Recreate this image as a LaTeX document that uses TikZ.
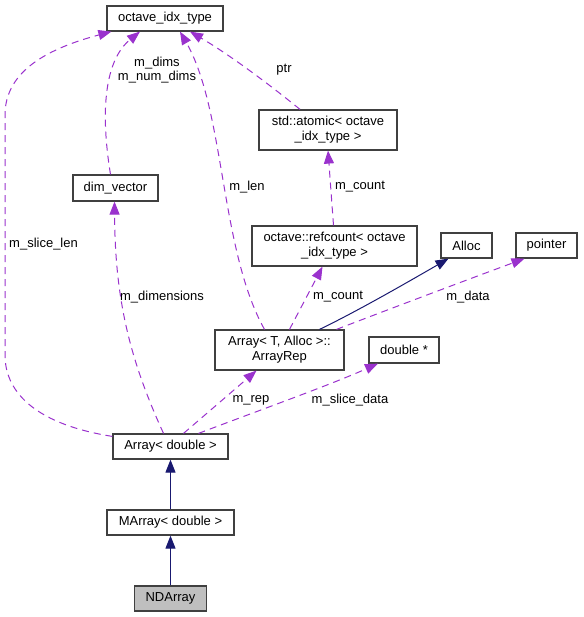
\documentclass[tikz,border=0pt]{standalone}
\usepackage{fontspec}
\setmainfont{Liberation Sans}
\usepackage{tikz}
\usetikzlibrary{positioning, arrows.meta}
\definecolor{memb}{HTML}{9A32CD}
\definecolor{inh}{HTML}{191970}
\definecolor{frame}{HTML}{404040}
\tikzset{x=1pt, y=-1pt, % pixel-like units, y down
cls/.style={draw=frame, line width=1.2pt, fill=white, minimum height=25pt, inner sep=0pt, align=center, font=\fontsize{13}{15}\selectfont}, % every class box
usage/.style={draw=memb, dashed, dash pattern=on 7pt off 5pt, line width=1pt, -{Triangle[length=13pt,width=10pt]}}, % member relation
base/.style={draw=inh, line width=1pt, -{Triangle[length=13pt,width=10pt]}}, % inheritance
lbl/.style={font=\fontsize{13}{14}\selectfont, align=center, inner sep=0pt}, % edge labels
}
\begin{document}
\begin{tikzpicture}
\useasboundingbox (0,0) rectangle (583,617);
\node[cls, minimum width=116pt] (idx) at (165,18.5) {octave\_idx\_type};
\node[cls, minimum width=138pt, minimum height=40pt] (atom) at (328,130) {std::atomic\textless{} octave\\\_idx\_type \textgreater};
\node[cls, minimum width=85pt, minimum height=26pt] (dimv) at (115.5,188) {dim\_vector};
\node[cls, minimum width=165pt, minimum height=40pt] (refc) at (334.5,246) {octave::refcount\textless{} octave\\\_idx\_type \textgreater};
\node[cls, minimum width=51pt] (alloc) at (466.5,245.5) {Alloc};
\node[cls, minimum width=61pt] (ptr) at (546.5,245.5) {pointer};
\node[cls, minimum width=129pt, minimum height=40pt] (rep) at (279.5,350) {Array\textless{} T, Alloc \textgreater::\\ArrayRep};
\node[cls, minimum width=70pt, minimum height=26pt] (dbl) at (404,350) {double *};
\node[cls, minimum width=115pt] (arr) at (170.5,446.5) {Array\textless{} double \textgreater};
\node[cls, minimum width=127pt] (marr) at (170.5,522.5) {MArray\textless{} double \textgreater};
\node[cls, minimum width=72pt, fill=gray!50] (nda) at (170.5,598.5) {NDArray};

% inheritance
\draw[base] (nda) -- (marr);
\draw[base] (marr) -- (arr);
\draw[base] ([xshift=40pt]rep.north) .. controls (360,310) and (420,275) .. ([xshift=-18pt]alloc.south);

% members
\draw[usage] ([yshift=-3pt]arr.north west) .. controls (40,425) and (5,395) .. (5,355) -- (5,115) .. controls (5,70) and (50,48) .. ([xshift=5pt]idx.south west);
\draw[usage] ([xshift=-5pt]dimv.north) .. controls (100,110) and (105,60) .. ([xshift=-25pt]idx.south);
\draw[usage] ([xshift=-15pt]rep.north) .. controls (220,250) and (225,110) .. ([xshift=15pt]idx.south);
\draw[usage] ([xshift=-28pt]atom.north) .. controls (270,85) and (230,55) .. ([xshift=25pt]idx.south);
\draw[usage] ([xshift=-1pt]refc.north) -- (atom.south);
\draw[usage] ([xshift=10pt]rep.north) -- ([xshift=-12pt]refc.south);
\draw[usage] ([xshift=57pt]rep.north) .. controls (400,305) and (480,275) .. ([xshift=-22pt]ptr.south);
\draw[usage] ([xshift=13pt]arr.north) -- ([xshift=-23pt]rep.south);
\draw[usage] ([xshift=28pt]arr.north) .. controls (260,410) and (330,385) .. ([xshift=-26pt]dbl.south);
\draw[usage] ([xshift=-7pt]arr.north) .. controls (130,360) and (115,300) .. ([xshift=-1pt]dimv.south);

% labels
\node[lbl, anchor=west] (lslice) at (9,244) {m\_slice\_len};
\node[lbl] (ldims) at (157,70) {m\_dims\\m\_num\_dims};
\node[lbl] (llen) at (247,187) {m\_len};
\node[lbl] (lptr) at (284,70) {ptr};
\node[lbl] (lcnt1) at (360,187) {m\_count};
\node[lbl] (lcnt2) at (338,297) {m\_count};
\node[lbl] (ldata) at (468,297) {m\_data};
\node[lbl] (ldim) at (162,297) {m\_dimensions};
\node[lbl] (lrep) at (251,400) {m\_rep};
\node[lbl] (lsdata) at (350,400) {m\_slice\_data};
\end{tikzpicture}
\end{document}
